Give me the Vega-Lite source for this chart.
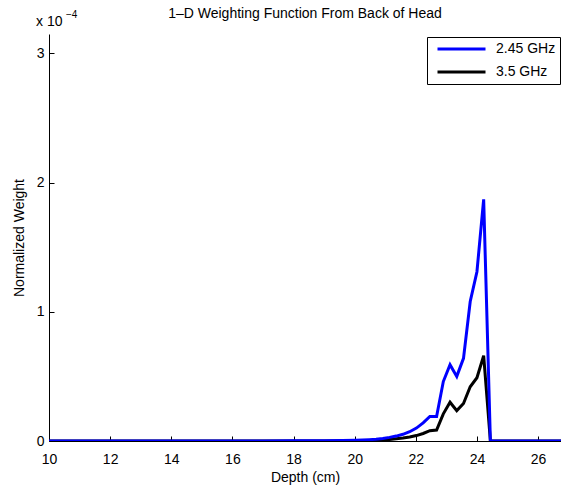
{
  "$schema": "https://vega.github.io/schema/vega-lite/v6.json",
  "width": 512,
  "height": 407,
  "autosize": {"type": "none"},
  "padding": {"left": 49, "top": 34, "right": 0, "bottom": 52},
  "background": "#ffffff",
  "config": {"font": "Liberation Sans", "view": {"stroke": null}},
  "title": {"text": "1–D Weighting Function From Back of Head", "fontSize": 14, "fontWeight": "normal", "color": "#000000", "anchor": "middle", "offset": -11},
  "datasets": {
    "curves": [
      {"depth": 10, "weight": 0, "freq": "2.45 GHz"},
      {"depth": 14, "weight": 0, "freq": "2.45 GHz"},
      {"depth": 17, "weight": 0.00000005, "freq": "2.45 GHz"},
      {"depth": 18, "weight": 0.0000001, "freq": "2.45 GHz"},
      {"depth": 19, "weight": 0.0000002, "freq": "2.45 GHz"},
      {"depth": 19.6, "weight": 0.0000003, "freq": "2.45 GHz"},
      {"depth": 20.04, "weight": 0.0000005, "freq": "2.45 GHz"},
      {"depth": 20.26, "weight": 0.0000007, "freq": "2.45 GHz"},
      {"depth": 20.48, "weight": 0.000001, "freq": "2.45 GHz"},
      {"depth": 20.7, "weight": 0.0000014, "freq": "2.45 GHz"},
      {"depth": 20.92, "weight": 0.000002, "freq": "2.45 GHz"},
      {"depth": 21.14, "weight": 0.0000028, "freq": "2.45 GHz"},
      {"depth": 21.36, "weight": 0.0000038, "freq": "2.45 GHz"},
      {"depth": 21.58, "weight": 0.0000052, "freq": "2.45 GHz"},
      {"depth": 21.8, "weight": 0.0000072, "freq": "2.45 GHz"},
      {"depth": 22.02, "weight": 0.00001, "freq": "2.45 GHz"},
      {"depth": 22.24, "weight": 0.000014, "freq": "2.45 GHz"},
      {"depth": 22.46, "weight": 0.000019, "freq": "2.45 GHz"},
      {"depth": 22.68, "weight": 0.000019, "freq": "2.45 GHz"},
      {"depth": 22.9, "weight": 0.000046, "freq": "2.45 GHz"},
      {"depth": 23.12, "weight": 0.000059, "freq": "2.45 GHz"},
      {"depth": 23.34, "weight": 0.00005, "freq": "2.45 GHz"},
      {"depth": 23.56, "weight": 0.000064, "freq": "2.45 GHz"},
      {"depth": 23.78, "weight": 0.000108, "freq": "2.45 GHz"},
      {"depth": 24.0, "weight": 0.000131, "freq": "2.45 GHz"},
      {"depth": 24.22, "weight": 0.000187, "freq": "2.45 GHz"},
      {"depth": 24.44, "weight": 0, "freq": "2.45 GHz"},
      {"depth": 27, "weight": 0, "freq": "2.45 GHz"},
      {"depth": 10, "weight": 0, "freq": "3.5 GHz"},
      {"depth": 19, "weight": 0, "freq": "3.5 GHz"},
      {"depth": 20.04, "weight": 0.0000002, "freq": "3.5 GHz"},
      {"depth": 20.48, "weight": 0.0000004, "freq": "3.5 GHz"},
      {"depth": 20.92, "weight": 0.0000008, "freq": "3.5 GHz"},
      {"depth": 21.14, "weight": 0.0000012, "freq": "3.5 GHz"},
      {"depth": 21.36, "weight": 0.0000017, "freq": "3.5 GHz"},
      {"depth": 21.58, "weight": 0.0000023, "freq": "3.5 GHz"},
      {"depth": 21.8, "weight": 0.0000031, "freq": "3.5 GHz"},
      {"depth": 22.02, "weight": 0.0000042, "freq": "3.5 GHz"},
      {"depth": 22.24, "weight": 0.0000058, "freq": "3.5 GHz"},
      {"depth": 22.46, "weight": 0.000008, "freq": "3.5 GHz"},
      {"depth": 22.68, "weight": 0.0000085, "freq": "3.5 GHz"},
      {"depth": 22.9, "weight": 0.000021, "freq": "3.5 GHz"},
      {"depth": 23.12, "weight": 0.00003, "freq": "3.5 GHz"},
      {"depth": 23.34, "weight": 0.0000235, "freq": "3.5 GHz"},
      {"depth": 23.56, "weight": 0.000029, "freq": "3.5 GHz"},
      {"depth": 23.78, "weight": 0.000042, "freq": "3.5 GHz"},
      {"depth": 24.0, "weight": 0.000049, "freq": "3.5 GHz"},
      {"depth": 24.22, "weight": 0.000066, "freq": "3.5 GHz"},
      {"depth": 24.44, "weight": 0, "freq": "3.5 GHz"},
      {"depth": 27, "weight": 0, "freq": "3.5 GHz"}
    ],
    "exponent": [
      {"depth": 10, "weight": 0.000315, "base": "x 10", "power": "−4"}
    ]
  },
  "data": {"name": "curves"},
  "encoding": {
    "x": {
      "field": "depth", "type": "quantitative",
      "scale": {"domain": [10, 26.75], "nice": false, "zero": false},
      "axis": {
        "title": "Depth (cm)", "values": [10, 12, 14, 16, 18, 20, 22, 24, 26],
        "grid": false, "tickSize": -5, "labelPadding": 16, "labelFlush": false,
        "domainColor": "#000000", "tickColor": "#000000", "labelColor": "#000000",
        "labelFontSize": 14, "titleFontSize": 14, "titleFontWeight": "normal",
        "titleColor": "#000000", "titlePadding": 4
      }
    },
    "y": {
      "field": "weight", "type": "quantitative",
      "scale": {"domain": [0, 0.000315], "nice": false},
      "axis": {
        "title": "Normalized Weight", "values": [0, 0.0001, 0.0002, 0.0003],
        "labelExpr": "format(datum.value*10000, '.0f')",
        "grid": false, "tickSize": -5, "labelPadding": 10,
        "domainColor": "#000000", "tickColor": "#000000", "labelColor": "#000000",
        "labelFontSize": 14, "titleFontSize": 14, "titleFontWeight": "normal",
        "titleColor": "#000000", "titlePadding": 10
      }
    }
  },
  "layer": [
    {
      "transform": [{"filter": "datum.freq === '3.5 GHz'"}],
      "mark": {"type": "line", "strokeWidth": 3, "clip": true},
      "encoding": {
        "color": {
          "field": "freq", "type": "nominal",
          "scale": {"domain": ["2.45 GHz", "3.5 GHz"], "range": ["#0000ff", "#000000"]},
          "legend": {
            "orient": "none", "legendX": 378, "legendY": 3, "title": null,
            "symbolType": "stroke", "symbolSize": 2304, "symbolStrokeWidth": 3,
            "clipHeight": 16, "rowPadding": 7, "padding": 4, "symbolOffset": 5,
            "labelOffset": 9, "labelFontSize": 14, "labelColor": "#000000",
            "strokeColor": "#000000", "fillColor": "#ffffff", "cornerRadius": 0
          }
        }
      }
    },
    {
      "transform": [{"filter": "datum.freq === '2.45 GHz'"}],
      "mark": {"type": "line", "strokeWidth": 3, "clip": true},
      "encoding": {
        "color": {"field": "freq", "type": "nominal"}
      }
    },
    {
      "data": {"name": "exponent"},
      "mark": {"type": "text", "align": "left", "baseline": "alphabetic", "dx": -13, "dy": -8, "fontSize": 14, "fill": "#000000"},
      "encoding": {
        "x": {"field": "depth", "type": "quantitative"},
        "y": {"field": "weight", "type": "quantitative"},
        "text": {"field": "base"}
      }
    },
    {
      "data": {"name": "exponent"},
      "mark": {"type": "text", "align": "left", "baseline": "alphabetic", "dx": 17, "dy": -16, "fontSize": 10, "fill": "#000000"},
      "encoding": {
        "x": {"field": "depth", "type": "quantitative"},
        "y": {"field": "weight", "type": "quantitative"},
        "text": {"field": "power"}
      }
    }
  ]
}
